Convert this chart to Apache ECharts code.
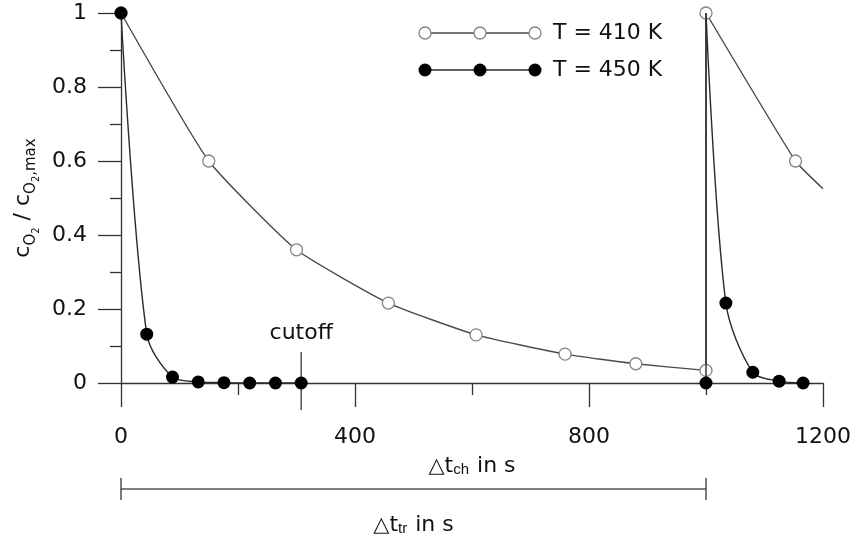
<!DOCTYPE html>
<html><head><meta charset="utf-8">
<script src="https://cdn.jsdelivr.net/npm/echarts@6/dist/echarts.min.js"></script>
<style>html,body{margin:0;padding:0;background:#fff}#c{width:855px;height:541px}</style>
</head><body><div id="c"></div>
<script>
// ---- data ----
const xTickValues = [0, 400, 800, 1200];
const yTickValues = [0, 0.2, 0.4, 0.6, 0.8, 1];
const t410Cycle1X = [0, 150, 300, 457, 607, 759, 880, 1000];
const t410Cycle1Y = [1.0, 0.6, 0.36, 0.216, 0.13, 0.078, 0.052, 0.034];
const t410Cycle2X = [1000, 1153, 1200];
const t410Cycle2Y = [1.0, 0.6, 0.525];
const t450Cycle1X = [0, 44, 88, 132, 176, 220, 264, 308];
const t450Cycle1Y = [1.0, 0.132, 0.016, 0.003, 0.001, 0, 0, 0];
const t450Cycle2X = [1000, 1034, 1080, 1125, 1166];
const t450Cycle2Y = [1.0, 0.216, 0.029, 0.005, 0];
const cutoffTime = 308;
const transferTime = 1000;
const legendNames = ['T = 410 K', 'T = 450 K'];

// ---- build ----
const zip = (xs, ys) => xs.map((x, i) => [x, ys[i]]);
const FONT = 'DejaVu Sans, Liberation Sans, sans-serif';
const NARROW = 'Liberation Sans Narrow, Liberation Sans, sans-serif';
const LINE410 = '#4a4a4a', MARK410 = '#858585', LINE450 = '#2a2a2a';
const openSym = { symbol: 'circle', symbolSize: 12, itemStyle: { color: '#fff', borderColor: MARK410, borderWidth: 1.3 } };
const fillSym = { symbol: 'circle', symbolSize: 13, itemStyle: { color: '#000', borderWidth: 0 } };

const cyc1_410 = zip(t410Cycle1X, t410Cycle1Y);
const cyc2_410 = zip(t410Cycle2X, t410Cycle2Y);
cyc2_410[cyc2_410.length - 1] = { value: cyc2_410[cyc2_410.length - 1], symbol: 'none' };
const jump410 = [[t410Cycle1X[t410Cycle1X.length - 1], t410Cycle1Y[t410Cycle1Y.length - 1]], [t410Cycle2X[0], t410Cycle2Y[0]]];
const cyc1_450 = zip(t450Cycle1X, t450Cycle1Y);
const cyc2_450 = zip(t450Cycle2X, t450Cycle2Y);
cyc2_450[0] = { value: cyc2_450[0], symbol: 'none' };
const jump450 = [{ value: [transferTime, 0] }, { value: [t450Cycle2X[0], t450Cycle2Y[0]], symbol: 'none' }];

const chart = echarts.init(document.getElementById('c'), null, { renderer: 'canvas' });
const base = { type: 'line', animation: false, silent: true, clip: true };
const subRich = {
  d: { fontSize: 21, fontFamily: 'DejaVu Sans', color: '#111', fill: '#111', lineHeight: 30, verticalAlign: 'bottom' },
  m: { fontSize: 22, fontFamily: FONT, color: '#111', fill: '#111', lineHeight: 30, verticalAlign: 'bottom' },
  s: { fontSize: 15, fontFamily: NARROW, color: '#111', fill: '#111', lineHeight: 14, verticalAlign: 'bottom', padding: [0, 1, 0, 0] }
};
const option = {
  backgroundColor: '#fff',
  textStyle: { fontFamily: FONT },
  grid: { left: 121, right: 32, top: 13, bottom: 158, containLabel: false },
  xAxis: {
    type: 'value', min: 0, max: 1200, interval: 400,
    axisLine: { show: true, onZero: false, lineStyle: { color: '#333', width: 1.3 } },
    axisTick: { show: true, length: 24, lineStyle: { color: '#333', width: 1.3 } },
    minorTick: { show: true, splitNumber: 2, length: 12, lineStyle: { color: '#333', width: 1.3 } },
    splitLine: { show: false },
    axisLabel: { fontSize: 22, color: '#111', margin: 43, fontFamily: FONT,
      formatter: v => xTickValues.includes(v) ? String(v) : '' },
    name: '{d|△}{m|t}{s|ch}{m| in s}', nameLocation: 'middle', nameGap: 64,
    nameTextStyle: { rich: subRich }
  },
  yAxis: {
    type: 'value', min: 0, max: 1, interval: 0.2,
    axisLine: { show: true, onZero: false, lineStyle: { color: '#333', width: 1.3 } },
    axisTick: { show: true, length: 23, lineStyle: { color: '#333', width: 1.3 } },
    minorTick: { show: true, splitNumber: 2, length: 11, lineStyle: { color: '#333', width: 1.3 } },
    splitLine: { show: false },
    axisLabel: { fontSize: 22, color: '#111', margin: 34, fontFamily: FONT,
      formatter: v => yTickValues.some(t => Math.abs(t - v) < 1e-9) ? String(+v.toFixed(1)) : '' },
    name: '{m|c}{s|O}{ss|2}{m| / c}{s|O}{ss|2}{s|,max}', nameLocation: 'middle', nameGap: 80, nameRotate: 90,
    nameTextStyle: { rich: {
      m: { fontSize: 22, fontFamily: FONT, color: '#111', lineHeight: 32, verticalAlign: 'bottom', padding: [0, 0, 4, 0] },
      s: { fontSize: 15, fontFamily: FONT, color: '#111', lineHeight: 15, verticalAlign: 'bottom' },
      ss: { fontSize: 10, fontFamily: FONT, color: '#111', lineHeight: 10, verticalAlign: 'bottom', padding: [0, 0, -3, 0] }
    } }
  },
  series: [
    Object.assign({}, base, openSym, { name: legendNames[0], data: cyc1_410, smooth: 0.15, lineStyle: { color: LINE410, width: 1.4 }, z: 2 }),
    Object.assign({}, base, { name: legendNames[0], data: jump410, symbol: 'none', lineStyle: { color: '#6a6a6a', width: 1.8 }, z: 1 }),
    Object.assign({}, base, openSym, { name: legendNames[0], data: cyc2_410, smooth: 0.15, lineStyle: { color: LINE410, width: 1.4 }, z: 2 }),
    Object.assign({}, base, fillSym, { name: legendNames[1], data: cyc1_450, smooth: 0.3, lineStyle: { color: LINE450, width: 1.4 }, z: 3 }),
    Object.assign({}, base, fillSym, { name: legendNames[1], data: jump450, lineStyle: { color: LINE450, width: 1.4 }, z: 3 }),
    Object.assign({}, base, fillSym, { name: legendNames[1], data: cyc2_450, smooth: 0.3, lineStyle: { color: LINE450, width: 1.4 }, z: 3 })
  ]
};
chart.setOption(option);

// ---- annotations positioned through the chart's own scales ----
const px = v => chart.convertToPixel({ xAxisIndex: 0 }, v);
const py = v => chart.convertToPixel({ yAxisIndex: 0 }, v);
const y0 = py(0);
const xc = px(cutoffTime), xa = px(0), xb = px(transferTime);
const bracketY = y0 + 106;
const g = [];
const stroke = { stroke: '#333', lineWidth: 1.3 };
g.push({ type: 'line', shape: { x1: xc, y1: y0 - 31, x2: xc, y2: y0 + 27 }, style: stroke, silent: true });
g.push({ type: 'text', x: xc, y: y0 - 50, style: { text: 'cutoff', font: '22px ' + FONT, fill: '#111', align: 'center', verticalAlign: 'middle' }, silent: true });
g.push({ type: 'line', shape: { x1: xa, y1: bracketY, x2: xb, y2: bracketY }, style: { stroke: '#555', lineWidth: 1.6 }, silent: true });
g.push({ type: 'line', shape: { x1: xa, y1: bracketY - 11, x2: xa, y2: bracketY + 11 }, style: stroke, silent: true });
g.push({ type: 'line', shape: { x1: xb, y1: bracketY - 11, x2: xb, y2: bracketY + 11 }, style: stroke, silent: true });
g.push({ type: 'text', x: (xa + xb) / 2, y: bracketY + 32, style: {
  text: '{d|△}{m|t}{s|tr}{m| in s}', align: 'center', verticalAlign: 'middle', rich: subRich }, silent: true });
// legend
const legRows = [{ y: 33, open: true, name: legendNames[0] }, { y: 70, open: false, name: legendNames[1] }];
const legX = [425, 480, 535];
legRows.forEach(r => {
  g.push({ type: 'line', shape: { x1: legX[0], y1: r.y, x2: legX[2], y2: r.y }, style: { stroke: r.open ? LINE410 : LINE450, lineWidth: 1.4 }, silent: true });
  legX.forEach(x => g.push({ type: 'circle', shape: { cx: x, cy: r.y, r: r.open ? 6 : 6.5 },
    style: r.open ? { fill: '#fff', stroke: MARK410, lineWidth: 1.3 } : { fill: '#000' }, silent: true }));
  g.push({ type: 'text', x: 553, y: r.y, style: { text: r.name, font: '22px ' + FONT, fill: '#111', align: 'left', verticalAlign: 'middle' }, silent: true });
});
chart.setOption({ graphic: g });
</script></body></html>
